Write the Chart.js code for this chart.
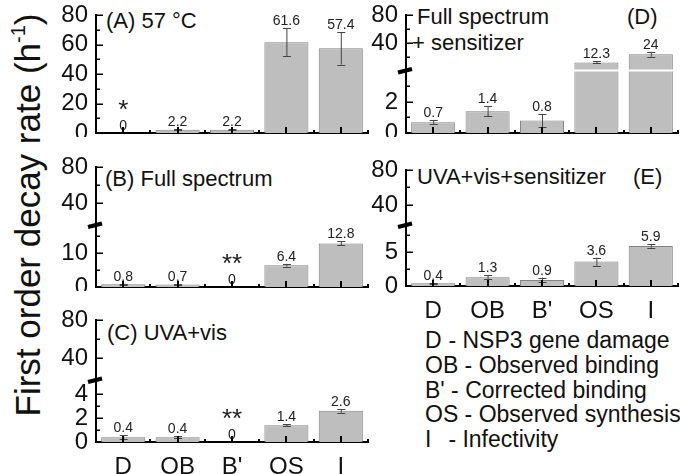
<!DOCTYPE html>
<html>
<head>
<meta charset="utf-8">
<script src="https://cdn.jsdelivr.net/npm/chart.js@4.4.1/dist/chart.umd.min.js"></script>
<style>
  html, body { margin: 0; padding: 0; background: #fff; overflow: hidden; }
  body { width: 680px; height: 474px; position: relative; font-family: "Liberation Sans", Arial, sans-serif; color: #111; }
  canvas { position: absolute; }
  .t { position: absolute; font-size: 22px; line-height: 22px; white-space: pre; }
  #ytitle { position: absolute; left: 24px; top: 215px; font-size: 35px; white-space: nowrap;
            transform: translate(-50%, -50%) rotate(-90deg); line-height: 40px; }
  #ytitle sup { font-size: 20px; position: relative; top: -2px; }
  #legend { position: absolute; left: 425px; top: 328px; font-size: 23px; line-height: 24.8px; white-space: pre; }
  #legend span { display: inline-block; min-width: 17px; }
</style>
</head>
<body>
<div id="ytitle">First order decay rate (h<sup>-1</sup>)</div>

<div class="t" style="left:106px; top:10px">(A) 57 °C</div>
<div class="t" style="left:105px; top:168px">(B) Full spectrum</div>
<div class="t" style="left:107px; top:322px">(C) UVA+vis</div>
<div class="t" style="left:417px; top:6px">Full spectrum</div>
<div class="t" style="left:412px; top:32px">+ sensitizer</div>
<div class="t" style="left:627px; top:6px">(D)</div>
<div class="t" style="left:417px; top:166px">UVA+vis+sensitizer</div>
<div class="t" style="left:633px; top:166px">(E)</div>

<div id="legend"><div><span>D</span> - NSP3 gene damage</div><div><span>OB</span> - Observed binding</div><div><span>B'</span> - Corrected binding</div><div><span>OS</span> - Observed synthesis</div><div><span>I</span> - Infectivity</div></div>

<script>
// categorías comunes a los cinco paneles
const categories = ['D', 'OB', "B'", 'OS', 'I'];

// (A) 57 °C
const rateA = [0, 2.2, 2.2, 61.6, 57.4];
const errA  = [0, 0.4, 0.4, 9.6, 11];
const starA = ['*', '', '', '', ''];
const ticksA = [0, 20, 40, 60, 80];
const minorA = [10, 30, 50, 70];

// (B) Full spectrum
const rateB = [0.8, 0.7, 0, 6.4, 12.8];
const errB  = [0.2, 0.2, 0, 0.4, 0.6];
const starB = ['', '', '**', '', ''];
const ticksB = [0, 10, 40, 80];
const minorB = [5, 15, 60];

// (C) UVA+vis
const rateC = [0.4, 0.4, 0, 1.4, 2.6];
const errC  = [0.15, 0.1, 0, 0.1, 0.15];
const starC = ['', '', '**', '', ''];
const ticksC = [0, 2, 4, 40, 80];
const minorC = [1, 3, 60];

// (D) Full spectrum + sensitizer
const rateD = [0.7, 1.4, 0.8, 12.3, 24];
const errD  = [0.15, 0.32, 0.43, 1.5, 3.5];
const starD = ['', '', '', '', ''];
const ticksD = [0, 2, 40, 80];
const minorD = [1, 3, 20, 60];

// (E) UVA+vis+sensitizer
const rateE = [0.4, 1.3, 0.9, 3.6, 5.9];
const errE  = [0.1, 0.3, 0.35, 0.6, 0.25];
const starE = ['', '', '', '', ''];
const ticksE = [0, 5, 40, 80];
const minorE = [2.5, 7.5, 60];

// eje Y con corte: tramo bajo [0, lowMax] y tramo alto [highMin, max]
class BrokenScale extends Chart.LinearScale {
  getPixelForValue(v) {
    const b = this.options.brk;
    const up = this.height - b.px;
    if (v <= b.lowMax) return this.bottom - v / b.lowMax * b.px;
    return this.bottom - b.px - (v - b.highMin) / (this.max - b.highMin) * up;
  }
  getValueForPixel(p) {
    const b = this.options.brk;
    const d = this.bottom - p;
    if (d <= b.px) return d / b.px * b.lowMax;
    return b.highMin + (d - b.px) / (this.height - b.px) * (this.max - b.highMin);
  }
}
BrokenScale.id = 'broken';
BrokenScale.defaults = Chart.LinearScale.defaults;
Chart.register(BrokenScale);

const FONT = '"Liberation Sans", Arial, sans-serif';
const Y_W = 44, PAD_T = 14, PLOT_W = 272, PAD_R = 6;

const panels = [
  { ax: 96,  top: 15,  bottom: 133, values: rateA, errs: errA, stars: starA, ticks: ticksA, minor: minorA, brk: null, showX: false },
  { ax: 96,  top: 167, bottom: 287, values: rateB, errs: errB, stars: starB, ticks: ticksB, minor: minorB, brk: { px: 62, lowMax: 18.2, highMin: 15.6 }, showX: false },
  { ax: 96,  top: 320, bottom: 442, values: rateC, errs: errC, stars: starC, ticks: ticksC, minor: minorC, brk: { px: 62, lowMax: 5.17, highMin: 16.8 }, showX: true },
  { ax: 406, top: 15,  bottom: 133, values: rateD, errs: errD, stars: starD, ticks: ticksD, minor: minorD, brk: { px: 62.5, lowMax: 4.03, highMin: 0.7 }, showX: false },
  { ax: 406, top: 170, bottom: 286, values: rateE, errs: errE, stars: starE, ticks: ticksE, minor: minorE, brk: { px: 61, lowMax: 9, highMin: 17.1 }, showX: true },
];

// barras de error, etiquetas, marcas de los ejes y símbolo de corte
function decor(p) {
  return {
    id: 'decor',
    afterDraw(chart) {
      const ctx = chart.ctx, a = chart.chartArea;
      const xs = chart.scales.x, ys = chart.scales.y;
      const meta = chart.getDatasetMeta(0);
      ctx.save();

      p.values.forEach((v, i) => {
        const e = p.errs[i];
        const x = meta.data[i].x;
        if (e) {
          const y1 = ys.getPixelForValue(v + e), y2 = ys.getPixelForValue(v - e);
          ctx.strokeStyle = '#444'; ctx.lineWidth = 1;
          ctx.beginPath();
          ctx.moveTo(x + 0.5, y1); ctx.lineTo(x + 0.5, y2);
          ctx.moveTo(x - 3.5, Math.round(y1) + 0.5); ctx.lineTo(x + 4.5, Math.round(y1) + 0.5);
          ctx.moveTo(x - 3.5, Math.round(y2) + 0.5); ctx.lineTo(x + 4.5, Math.round(y2) + 0.5);
          ctx.stroke();
        }
        const top = Math.min(ys.getPixelForValue(v + e), ys.getPixelForValue(v));
        ctx.fillStyle = '#222'; ctx.textAlign = 'center'; ctx.textBaseline = 'alphabetic';
        ctx.font = '14px ' + FONT;
        ctx.fillText(String(v), x, top - 3);
        if (p.stars[i]) {
          ctx.font = '26px ' + FONT;
          ctx.fillText(p.stars[i], x, top - 15);
        }
      });

      ctx.strokeStyle = '#000';
      if (p.brk) {
        const by = ys.bottom - p.brk.px;
        ctx.strokeStyle = '#fff'; ctx.lineWidth = 2;
        ctx.beginPath(); ctx.moveTo(a.left + 2, by); ctx.lineTo(a.right, by); ctx.stroke();
        ctx.strokeStyle = '#000'; ctx.lineWidth = 4;
        ctx.beginPath(); ctx.moveTo(a.left - 8, by + 2); ctx.lineTo(a.left + 6, by - 1.5); ctx.stroke();
      }

      // marcas del eje Y hacia dentro
      ctx.lineWidth = 1.5;
      ctx.beginPath();
      p.ticks.forEach(v => {
        if (!v) return;
        const y = Math.round(ys.getPixelForValue(v)) + 0.25;
        ctx.moveTo(a.left, y); ctx.lineTo(a.left + 7, y);
      });
      p.minor.forEach(v => {
        const y = Math.round(ys.getPixelForValue(v)) + 0.25;
        ctx.moveTo(a.left, y); ctx.lineTo(a.left + 4, y);
      });
      ctx.stroke();

      // marcas del eje X: centro de categoría y límites
      ctx.lineWidth = 2;
      ctx.beginPath();
      const half = (xs.getPixelForValue(1) - xs.getPixelForValue(0)) / 2;
      categories.forEach((c, i) => {
        const x = Math.round(xs.getPixelForValue(i));
        ctx.moveTo(x, a.bottom); ctx.lineTo(x, a.bottom - 6);
        const xb = Math.round(xs.getPixelForValue(i) + half);
        ctx.moveTo(xb, a.bottom); ctx.lineTo(xb, a.bottom - 3);
      });
      ctx.stroke();
      ctx.restore();
    }
  };
}

panels.forEach(p => {
  const xH = p.showX ? 34 : 4;
  const cv = document.createElement('canvas');
  cv.width = Y_W + PLOT_W + PAD_R;
  cv.height = PAD_T + (p.bottom - p.top) + xH;
  cv.style.left = (p.ax - Y_W) + 'px';
  cv.style.top = (p.top - PAD_T) + 'px';
  document.body.appendChild(cv);

  const yScale = {
    type: p.brk ? 'broken' : 'linear',
    min: 0, max: 80, z: 1,
    grid: { display: false, drawTicks: false },
    border: { display: true, color: '#000', width: 2 },
    ticks: { color: '#111', font: { family: FONT, size: 24 }, padding: 8, autoSkip: false, callback: v => String(v) },
    afterBuildTicks: s => { s.ticks = p.ticks.map(v => ({ value: v })); },
    afterFit: s => { s.width = Y_W; s.paddingTop = 0; s.paddingBottom = 0; },
  };
  if (p.brk) yScale.brk = p.brk;

  new Chart(cv, {
    type: 'bar',
    data: {
      labels: categories,
      datasets: [{
        data: p.values,
        backgroundColor: 'rgb(190,190,190)',
        borderColor: 'rgb(130,130,130)',
        borderWidth: 1,
        barPercentage: 0.81,
        categoryPercentage: 1,
      }]
    },
    options: {
      responsive: false,
      animation: false,
      devicePixelRatio: 1,
      layout: { padding: { top: PAD_T, right: PAD_R, left: 0, bottom: 0 } },
      plugins: { legend: { display: false }, tooltip: { enabled: false } },
      scales: {
        x: {
          type: 'category', offset: true, z: 1,
          grid: { display: false, drawTicks: false },
          border: { display: true, color: '#000', width: 2 },
          ticks: { display: p.showX, color: '#111', font: { family: FONT, size: 24 }, padding: 11, autoSkip: false },
          afterFit: s => { s.height = xH; s.paddingLeft = 0; s.paddingRight = 0; },
        },
        y: yScale,
      }
    },
    plugins: [decor(p)]
  });
});
</script>
</body>
</html>
